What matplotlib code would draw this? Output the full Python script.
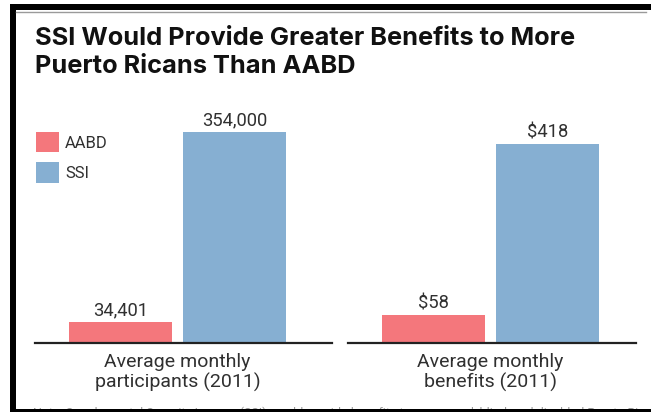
import matplotlib.pyplot as plt
from matplotlib.patches import Rectangle, Patch
from matplotlib.lines import Line2D

# program data
programs = ['AABD', 'SSI']
participants = [34401, 354000]
benefits = [58, 418]
participant_labels = ['34,401', '354,000']
benefit_labels = ['$58', '$418']
categories = ['Average monthly\nparticipants (2011)', 'Average monthly\nbenefits (2011)']
title_lines = ['SSI Would Provide Greater Benefits to More', 'Puerto Ricans Than AABD']
colors = ['#f4777c', '#86afd2']

W, H = 651, 412
body = 'Roboto'
ink = '#303030'


def fx(x):
    return x / W


def fy(y):
    return 1 - y / H


fig = plt.figure(figsize=(W / 100, H / 100), dpi=100)

# black frame around the graphic
fig.add_artist(Rectangle((fx(10), fy(10)), 1 - fx(10), 6 / H, transform=fig.transFigure,
                         facecolor='black', edgecolor='none', zorder=5))
fig.add_artist(Rectangle((fx(10), 0), 6 / W, fy(4), transform=fig.transFigure,
                         facecolor='black', edgecolor='none', zorder=5))
fig.add_artist(Line2D([fx(16), fx(646)], [fy(11.5), fy(11.5)], transform=fig.transFigure,
                      color='#9a9a9a', lw=1, zorder=5))
fig.add_artist(Rectangle((fx(10), 0), 1 - fx(10), 3 / H, transform=fig.transFigure,
                         facecolor='black', edgecolor='none', zorder=5))

for line, base in zip(title_lines, [45, 73]):
    fig.text(fx(35), fy(base), line, ha='left', va='baseline', fontsize=18.3,
             fontweight='bold', color='#111111', family='Inter')

# source note, mostly cut off at the bottom edge
fig.text(fx(33), fy(407), 'Note: Supplemental Security Income (SSI) would provide benefits to more aged, blind, and disabled Puerto Ricans',
         ha='left', va='top', fontsize=9, color='#999999', family=body, zorder=1)

panels = [
    (participants, participant_labels, [35, 343, 332, 132], 354000, categories[0]),
    (benefits, benefit_labels, [348, 343, 636, 144], 418, categories[1]),
]

x = [0, 1]
axes = []
for values, labels, (x0, yb, x1, yt), top, cat in panels:
    ax = fig.add_axes([fx(x0), fy(yb), (x1 - x0) / W, (yb - yt) / H])
    ax.bar(x, values, width=0.9, color=colors, zorder=2)
    ax.set_ylim(0, top)
    ax.set_xlim(-0.75, (x1 - x0) / 114 - 0.75)
    for xi, v, lab in zip(x, values, labels):
        ax.annotate(lab, (xi, v), xytext=(0, 5), textcoords='offset points',
                    ha='center', va='baseline', fontsize=13.2,
                    color=ink, family=body, annotation_clip=False)
    for s in ['top', 'left', 'right']:
        ax.spines[s].set_visible(False)
    ax.spines['bottom'].set_linewidth(1.6)
    ax.spines['bottom'].set_color('#222222')
    ax.set_yticks([])
    ax.set_xticks([0.5])
    ax.set_xticklabels([cat], fontsize=14, color=ink, family=body, linespacing=1.15)
    ax.tick_params(axis='x', length=0, pad=7)
    axes.append(ax)

handles = [Patch(facecolor=c, edgecolor='none') for c in colors]
axes[0].legend(handles, programs, loc='upper left', bbox_to_anchor=(fx(36), fy(132)),
               bbox_transform=fig.transFigure, frameon=False, borderpad=0, borderaxespad=0,
               handlelength=1.35, handleheight=1.5, handletextpad=0.4, labelspacing=0.6,
               prop={'family': body, 'size': 12}, labelcolor=ink)

fig.savefig('out.png', dpi=100, facecolor='white')
